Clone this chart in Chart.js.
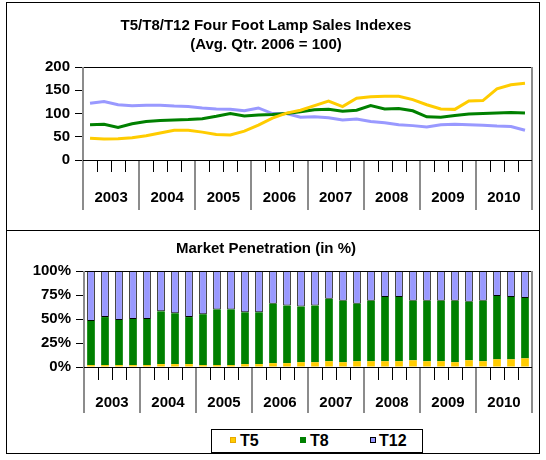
<!DOCTYPE html>
<html>
<head>
<meta charset="utf-8">
<script src="https://cdn.jsdelivr.net/npm/chart.js@4.4.1/dist/chart.umd.min.js"></script>
<style>
  html, body { margin: 0; padding: 0; background: #fff; }
  body { width: 546px; height: 460px; position: relative; overflow: hidden; font-family: 'Liberation Sans', Arial, sans-serif; }
  .panel { position: absolute; border: 1px solid #000; box-sizing: border-box; }
  canvas { position: absolute; left: 0; }
  #legend { position: absolute; left: 211px; top: 429px; width: 212px; height: 24px; border: 1px solid #000; box-sizing: border-box; background: #fff;
            font: bold 16px 'Liberation Sans', Arial, sans-serif; color: #000; }
  .li { position: absolute; top: 2px; line-height: 18px; }
  .sw { position: absolute; width: 6px; height: 6px; top: 7px; box-sizing: border-box; }
</style>
</head>
<body>
<div class="panel" style="left:6px;top:2px;width:534px;height:229px;"></div>
<div class="panel" style="left:6px;top:230px;width:534px;height:224px;"></div>
<canvas id="top" width="546" height="230" style="top:0;width:546px;height:230px;"></canvas>
<canvas id="bot" width="546" height="230" style="top:230px;width:546px;height:230px;"></canvas>
<div id="legend">
  <div class="sw" style="left:18px;background:#FFCC00;border:1px solid #E8A800;"></div><div class="li" style="left:28px;">T5</div>
  <div class="sw" style="left:88px;background:#008000;"></div><div class="li" style="left:98px;">T8</div>
  <div class="sw" style="left:158px;background:#9999FF;border:1px solid #000;"></div><div class="li" style="left:167px;">T12</div>
</div>
<script>
// ---------- data ----------
const years = ['2003', '2004', '2005', '2006', '2007', '2008', '2009', '2010'];
const quarters = ['Q1', 'Q2', 'Q3', 'Q4'];
// Lamp sales indexes (Avg. Qtr. 2006 = 100), quarterly 2003 Q1 .. 2010 Q4
const indexT5  = [47, 45, 46, 48, 52, 58, 64, 64, 60, 55, 54, 62, 75, 90, 101, 107,
                  117, 127, 115, 133, 136, 137, 137, 130, 119, 110, 109, 127, 128, 153, 162, 165];
const indexT8  = [76, 77, 70, 78, 83, 85, 86, 87, 89, 94, 100, 95, 97, 98, 100, 104,
                  108, 109, 105, 107, 117, 110, 111, 106, 93, 92, 96, 99, 100, 101, 102, 101];
const indexT12 = [122, 126, 119, 117, 118, 118, 116, 115, 112, 110, 109, 106, 112, 100, 100, 92,
                  93, 91, 86, 88, 83, 80, 76, 74, 71, 76, 77, 76, 75, 73, 72, 64];
// Market penetration (in %)
const shareT5  = [2, 2, 2, 2, 2, 3, 3, 3, 2, 2, 2, 3, 3, 4, 4, 5,
                  5, 6, 5, 6, 6, 6, 6, 7, 6, 6, 5, 7, 6, 8, 8, 9];
const shareT8  = [46, 50, 47, 48, 48, 55, 53, 49, 53, 58, 58, 54, 54, 62, 60, 58,
                  59, 65, 64, 60, 63, 67, 67, 62, 63, 63, 64, 61, 63, 66, 65, 63];
const shareT12 = [52, 48, 51, 50, 50, 42, 44, 48, 45, 40, 40, 43, 43, 34, 36, 37,
                  36, 29, 31, 34, 31, 27, 27, 31, 31, 31, 31, 32, 31, 26, 27, 28];
const indexTicks = [0, 50, 100, 150, 200];
const shareTicks = ['0%', '25%', '50%', '75%', '100%'];

const categories = years.flatMap(y => quarters.map(q => y + ' ' + q));

// ---------- styling ----------
const FONT = "'Liberation Sans', Arial, sans-serif";
const C_T5 = '#FFCC00', C_T8 = '#008000', C_T12 = '#9999FF';
Chart.defaults.font.family = FONT;
Chart.defaults.color = '#000';
Chart.defaults.animation = false;

// category axis decoration: quarter ticks, year separators, year labels, plot frame
const yearAxis = {
  id: 'yearAxis',
  afterDatasetsDraw(chart, args, o) {
    const { ctx, chartArea: a } = chart;
    const x = chart.scales.x;
    const n = chart.data.labels.length;
    const half = (x.getPixelForValue(1) - x.getPixelForValue(0)) / 2;
    ctx.save();
    ctx.lineWidth = 1;
    ctx.strokeStyle = '#000';
    ctx.beginPath();
    ctx.moveTo(a.left, Math.round(a.top) + 0.5); ctx.lineTo(a.right, Math.round(a.top) + 0.5);
    ctx.stroke();
    for (let i = 0; i <= n; i++) {
      const px = Math.round(i < n ? x.getPixelForValue(i) - half : x.getPixelForValue(n - 1) + half);
      ctx.beginPath();
      if (i % 4 === 0) {
        ctx.strokeStyle = '#8c8c8c';
        ctx.lineWidth = 2;
        const y0 = (i === 0 || i === n) ? a.top : a.bottom;
        ctx.moveTo(px, y0); ctx.lineTo(px, a.bottom + o.sepLen);
      } else {
        ctx.strokeStyle = '#000';
        ctx.lineWidth = 1;
        ctx.moveTo(px + 0.5, a.bottom); ctx.lineTo(px + 0.5, a.bottom + o.tickLen);
      }
      ctx.stroke();
    }
    ctx.strokeStyle = '#000';
    ctx.lineWidth = 1;
    ctx.beginPath();
    ctx.moveTo(a.left, Math.round(a.bottom) + 0.5); ctx.lineTo(a.right, Math.round(a.bottom) + 0.5);
    ctx.stroke();
    ctx.fillStyle = '#000';
    ctx.font = 'bold 15px ' + FONT;
    ctx.textAlign = 'center';
    ctx.textBaseline = 'middle';
    years.forEach((yr, k) => {
      const cx = (x.getPixelForValue(4 * k) + x.getPixelForValue(4 * k + 3)) / 2;
      ctx.fillText(yr, cx, a.bottom + o.labelOff);
    });
    ctx.restore();
  }
};

function yScale(extra) {
  return Object.assign({
    grid: { drawOnChartArea: false, color: '#000', tickLength: 8, lineWidth: 1 },
    border: { display: false },
    ticks: { font: { size: 15, weight: 'bold' }, color: '#000', padding: 5 }
  }, extra);
}

// ---------- top chart: indexes ----------
new Chart(document.getElementById('top'), {
  type: 'line',
  data: {
    labels: categories,
    datasets: [
      { label: 'T5',  data: indexT5,  borderColor: C_T5,  backgroundColor: C_T5 },
      { label: 'T8',  data: indexT8,  borderColor: C_T8,  backgroundColor: C_T8 },
      { label: 'T12', data: indexT12, borderColor: C_T12, backgroundColor: C_T12 }
    ].map(d => Object.assign(d, { borderWidth: 3, pointRadius: 0, tension: 0, fill: false }))
  },
  options: {
    responsive: false,
    layout: { padding: { left: 0, right: 14, top: 0, bottom: 0 } },
    plugins: {
      legend: { display: false },
      tooltip: { enabled: false },
      title: {
        display: true,
        text: ['T5/T8/T12 Four Foot Lamp Sales Indexes', '(Avg. Qtr. 2006 = 100)'],
        font: { size: 15, weight: 'bold', lineHeight: 1.27 },
        color: '#000',
        padding: { top: 16, bottom: 13 }
      },
      yearAxis: { sepLen: 50, tickLen: 12, labelOff: 38 }
    },
    scales: {
      x: { type: 'category', offset: true, ticks: { display: false }, grid: { display: false }, border: { display: false },
           afterFit: s => { s.height = 70; } },
      y: yScale({ min: 0, max: 200, afterFit: s => { s.width = 83; },
                  afterBuildTicks: s => { s.ticks = indexTicks.map(v => ({ value: v })); } })
    }
  },
  plugins: [yearAxis]
});

// ---------- bottom chart: market penetration ----------
new Chart(document.getElementById('bot'), {
  type: 'bar',
  data: {
    labels: categories,
    datasets: [
      { label: 'T5',  data: shareT5,  backgroundColor: C_T5,  borderColor: '#E8A800', borderWidth: 0 },
      { label: 'T8',  data: shareT8,  backgroundColor: C_T8,  borderColor: C_T8, borderWidth: 0 },
      { label: 'T12', data: shareT12, backgroundColor: C_T12, borderColor: '#000', borderWidth: 1, borderSkipped: false }
    ].map(d => Object.assign(d, { barPercentage: 0.55, categoryPercentage: 1 }))
  },
  options: {
    responsive: false,
    layout: { padding: { left: 0, right: 14, top: 0, bottom: 0 } },
    plugins: {
      legend: { display: false },
      tooltip: { enabled: false },
      title: {
        display: true,
        text: 'Market Penetration (in %)',
        font: { size: 15, weight: 'bold', lineHeight: 1.2 },
        color: '#000',
        padding: { top: 10, bottom: 13 }
      },
      yearAxis: { sepLen: 46, tickLen: 13, labelOff: 36 }
    },
    scales: {
      x: { type: 'category', stacked: true, offset: true, ticks: { display: false }, grid: { display: false }, border: { display: false },
           afterFit: s => { s.height = 93; } },
      y: yScale({ stacked: true, min: 0, max: 100, afterFit: s => { s.width = 84; },
                  afterBuildTicks: s => { s.ticks = [0, 25, 50, 75, 100].map(v => ({ value: v })); },
                  ticks: { font: { size: 15, weight: 'bold' }, color: '#000', padding: 5,
                           callback: (v, i) => shareTicks[i] } })
    }
  },
  plugins: [yearAxis]
});
</script>
</body>
</html>
